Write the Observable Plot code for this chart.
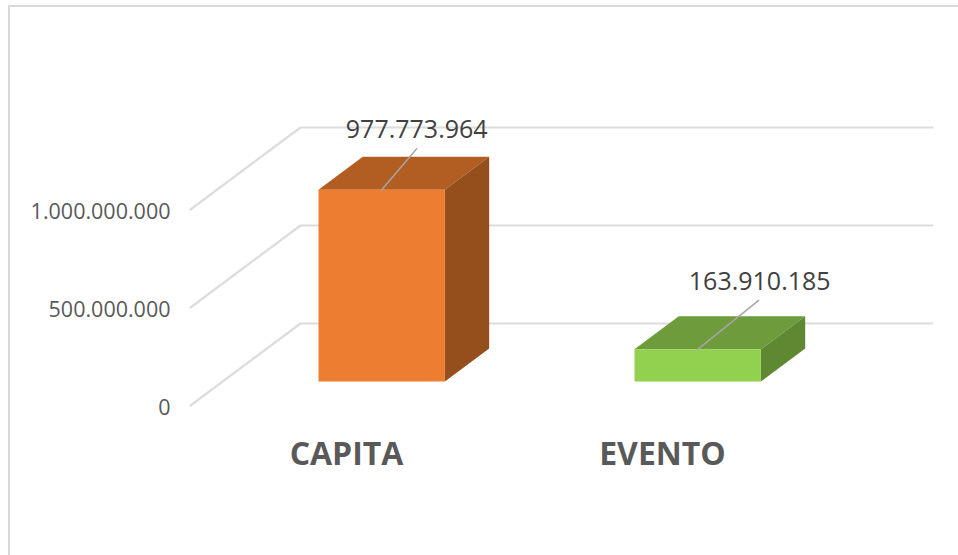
<!DOCTYPE html>
<html>
<head>
<meta charset="utf-8">
<script src="https://cdn.jsdelivr.net/npm/d3@7"></script>
<script src="https://cdn.jsdelivr.net/npm/@observablehq/plot@0.6"></script>
<style>
html,body{margin:0;padding:0;background:#fff;overflow:hidden}
#wrap{position:relative;width:958px;height:555px}
#edge{position:absolute;left:8px;top:5px;right:0;bottom:0;border-left:2px solid #d9d9d9;border-top:2px solid #d9d9d9;pointer-events:none}
svg{display:block}
</style>
</head>
<body>
<div id="wrap"><div id="edge"></div></div>
<script>
const categories = ["CAPITA", "EVENTO"];
const values = [977773964, 163910185];
const valueLabels = ["977.773.964", "163.910.185"];
const yTicks = [0, 500000000, 1000000000];
const yTickLabels = ["0", "500.000.000", "1.000.000.000"];
const frontColors = ["#ED7D31", "#92D050"];
const topColors = ["#B25D22", "#6E9C3C"];
const sideColors = ["#954F1C", "#5E8831"];

// Oblique projection: depth z (0 front wall, 1 back wall) shears x and y in data units.
const pxPerCat = 316, pxPerValue = 196 / 1e9;
const shearX = 110 / pxPerCat, shearY = 82 / pxPerValue;
const project = (c, v, z) => ({x: c + z * shearX, y: v + z * shearY});
const barHalf = 0.2, zFront = 24 / 82, zBack = 57 / 82;

const grid = yTicks.flatMap((v) => [
  {...project(0, v, 0), id: v},
  {...project(0, v, 1), id: v},
  {...project(2, v, 1), id: v}
]);

const face = (pts, fill) => Plot.line(pts, {x: "x", y: "y", fill, stroke: "none", dx: 1});
const bars = categories.flatMap((_, i) => {
  const c0 = i + 0.5 - barHalf, c1 = i + 0.5 + barHalf, v = values[i];
  return [
    face([project(c0, v, zFront), project(c0, v, zBack), project(c1, v, zBack), project(c1, v, zFront)], topColors[i]),
    face([project(c1, v, zFront), project(c1, v, zBack), project(c1, 0, zBack), project(c1, 0, zFront)], sideColors[i]),
    face([project(c0, v, zFront), project(c1, v, zFront), project(c1, 0, zFront), project(c0, 0, zFront)], frontColors[i])
  ];
});

// Manually placed data labels: offsets of label and leader end from the bar's top front centre.
const labelOffset = [[36, -60], [63, -67]];
const leaderOffset = [[35, -41], [61, -49]];
const labelMarks = categories.flatMap((_, i) => {
  const p = project(i + 0.5, values[i], zFront);
  return [
    Plot.line([p, {x: p.x + leaderOffset[i][0] / pxPerCat, y: p.y - leaderOffset[i][1] / pxPerValue}],
      {x: "x", y: "y", stroke: "#A6A6A6", strokeWidth: 1.5, dx: 1}),
    Plot.text([valueLabels[i]], {
      x: p.x, y: p.y, text: (d) => d, dx: labelOffset[i][0], dy: labelOffset[i][1],
      fontSize: 25, fill: "#404040", textAnchor: "middle", lineAnchor: "middle",
      fontFamily: "'Open Sans'"
    })
  ];
});

const chart = Plot.plot({
  width: 958, height: 555,
  marginTop: 0, marginRight: 0, marginBottom: 0, marginLeft: 0,
  style: {background: "transparent"},
  x: {type: "linear", domain: [0, 2], range: [190, 822], axis: null},
  y: {type: "linear", domain: [0, 1e9], range: [405, 209], axis: null},
  marks: [
    Plot.line(grid, {x: "x", y: "y", z: "id", stroke: "#DCDCDC", strokeWidth: 2.2}),
    ...bars,
    ...labelMarks,
    Plot.text(yTicks, {
      x: 0, y: (d) => d, text: (d, i) => yTickLabels[i], dx: -20, dy: 2.5,
      textAnchor: "end", lineAnchor: "middle", fontSize: 21.5, fill: "#595959",
      fontFamily: "'Open Sans'"
    }),
    Plot.text(categories, {
      x: (d, i) => i + 0.5, y: 0, text: (d) => d, dx: -2, dy: 49,
      textAnchor: "middle", lineAnchor: "middle", fontSize: 32, fontWeight: 700, fill: "#595959",
      fontFamily: "'Open Sans'"
    })
  ]
});
document.getElementById("wrap").prepend(chart);
</script>
</body>
</html>
